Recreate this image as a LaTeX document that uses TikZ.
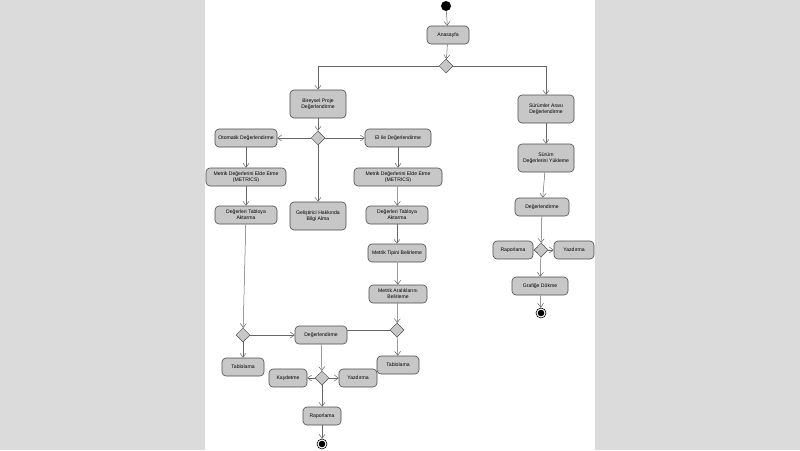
\documentclass[tikz,border=0pt]{standalone}
\usepackage{fontspec}
\setmainfont{Liberation Sans}
\usetikzlibrary{shapes.geometric,arrows.meta}
\begin{document}
\begin{tikzpicture}[x=1pt,y=-1pt,
  act/.style={draw=black!70,fill=black!22,rounded corners=4pt,align=center,font=\fontsize{5.1}{5.9}\selectfont,inner sep=1pt,line width=0.6pt},
  dec/.style={draw=black!70,fill=black!22,diamond,minimum width=14pt,minimum height=14pt,inner sep=0pt,line width=0.5pt},
  fl/.style={draw=black!60,line width=0.5pt,-{Straight Barb[length=4pt,width=6pt]}},
  pl/.style={draw=black!60,line width=0.5pt}]
\fill[black!14] (0,0) rectangle (800,450);
\fill[white] (205,0) rectangle (595,450);
\useasboundingbox (0,0) rectangle (800,450);
\node[circle,fill=black,minimum size=10pt,inner sep=0] (s) at (446,6) {};
\node[act,minimum width=42pt,minimum height=18pt] (ana) at (448,35) {Anasayfa};
\node[dec] (d1) at (446,66) {};
\node[act,minimum width=56pt,minimum height=28pt] (bir) at (318,104) {Bireysel Proje\\Değerlendirme};
\node[act,minimum width=56pt,minimum height=28pt] (sur) at (546,109) {Sürümler Arası\\Değerlendirme};
\node[dec] (d2) at (318,138) {};
\node[act,minimum width=62pt,minimum height=18pt] (oto) at (246,138) {Otomatik Değerlendirme};
\node[act,minimum width=66pt,minimum height=18pt] (el) at (398,138) {El ile Değerlendirme};
\node[act,minimum width=80pt,minimum height=18pt] (ml) at (246,177) {Metrik Değerlerini Elde Etme\\(METRICS)};
\node[act,minimum width=88pt,minimum height=18pt] (mr) at (398,177) {Metrik Değerlerini Elde Etme\\(METRICS)};
\node[act,minimum width=56pt,minimum height=28pt] (gel) at (318,216) {Geliştirici Hakkında\\Bilgi Alma};
\node[act,minimum width=62pt,minimum height=18pt] (tl) at (246,215) {Değerleri Tabloya\\Aktarma};
\node[act,minimum width=62pt,minimum height=18pt] (tr) at (397,215) {Değerleri Tabloya\\Aktarma};
\node[act,minimum width=56pt,minimum height=28pt] (syk) at (546,158) {Sürüm\\Değerlerini Yükleme};
\node[act,minimum width=54pt,minimum height=18pt] (deR) at (542,207) {Değerlendirme};
\node[dec] (dR2) at (541,250) {};
\node[act,minimum width=40pt,minimum height=18pt] (rapR) at (513,250) {Raporlama};
\node[act,minimum width=40pt,minimum height=18pt] (yazR) at (574,250) {Yazdırma};
\node[act,minimum width=56pt,minimum height=18pt] (gra) at (540,286) {Grafiğe Dökme};
\node[circle,draw=black,line width=0.6pt,minimum size=10pt,inner sep=0] (eR) at (541,313) {};
\fill (eR) circle (3.3pt);
\node[act,minimum width=58pt,minimum height=18pt] (tip) at (397,253) {Metrik Tipini Belirleme};
\node[act,minimum width=58pt,minimum height=18pt] (ara) at (398,294) {Metrik Aralıklarını\\Belirleme};
\node[dec] (dL) at (243,335) {};
\node[dec] (dRR) at (397,330) {};
\node[act,minimum width=52pt,minimum height=18pt] (deg) at (321,335) {Değerlendirme};
\node[act,minimum width=42pt,minimum height=18pt] (tabL) at (243,367) {Tablolama};
\node[act,minimum width=42pt,minimum height=18pt] (tabR) at (398,365) {Tablolama};
\node[dec] (db) at (322,378) {};
\node[act,minimum width=38pt,minimum height=18pt] (kay) at (288,378) {Kaydetme};
\node[act,minimum width=38pt,minimum height=18pt] (yaz) at (358,378) {Yazdırma};
\node[act,minimum width=38pt,minimum height=18pt] (rap) at (322,416) {Raporlama};
\node[circle,draw=black,line width=0.6pt,minimum size=10pt,inner sep=0] (e) at (322,444) {};
\fill (e) circle (3.3pt);
\draw[fl] (s) -- (ana);
\draw[fl] (ana) -- (d1);
\draw[fl] (d1.west) -| (bir.north);
\draw[fl] (d1.east) -| (sur.north);
\draw[fl] (bir) -- (d2);
\draw[fl] (d2) -- (oto);
\draw[fl] (d2) -- (el);
\draw[fl] (d2) -- (gel);
\draw[fl] (oto) -- (ml);
\draw[fl] (ml) -- (tl);
\draw[fl] (tl) -- (dL);
\draw[fl] (dL) -- (deg);
\draw[fl] (dL) -- (tabL);
\draw[fl] (el) -- (mr);
\draw[fl] (mr) -- (tr);
\draw[fl] (tr) -- (tip);
\draw[fl] (tip) -- (ara);
\draw[fl] (ara) -- (dRR);
\draw[pl] (dRR.west) -- (deg.east |- dRR.west);
\draw[fl] (dRR) -- (tabR);
\draw[fl] (deg) -- (db);
\draw[fl] (db) -- (kay);
\draw[fl] (db) -- (yaz);
\draw[fl] (db) -- (rap);
\draw[fl] (rap) -- (e);
\draw[fl] (sur) -- (syk);
\draw[fl] (syk) -- (deR);
\draw[fl] (deR) -- (dR2);
\draw[fl] (dR2) -- (rapR);
\draw[fl] (dR2) -- (yazR);
\draw[fl] (dR2) -- (gra);
\draw[fl] (gra) -- (eR);
\end{tikzpicture}
\end{document}
